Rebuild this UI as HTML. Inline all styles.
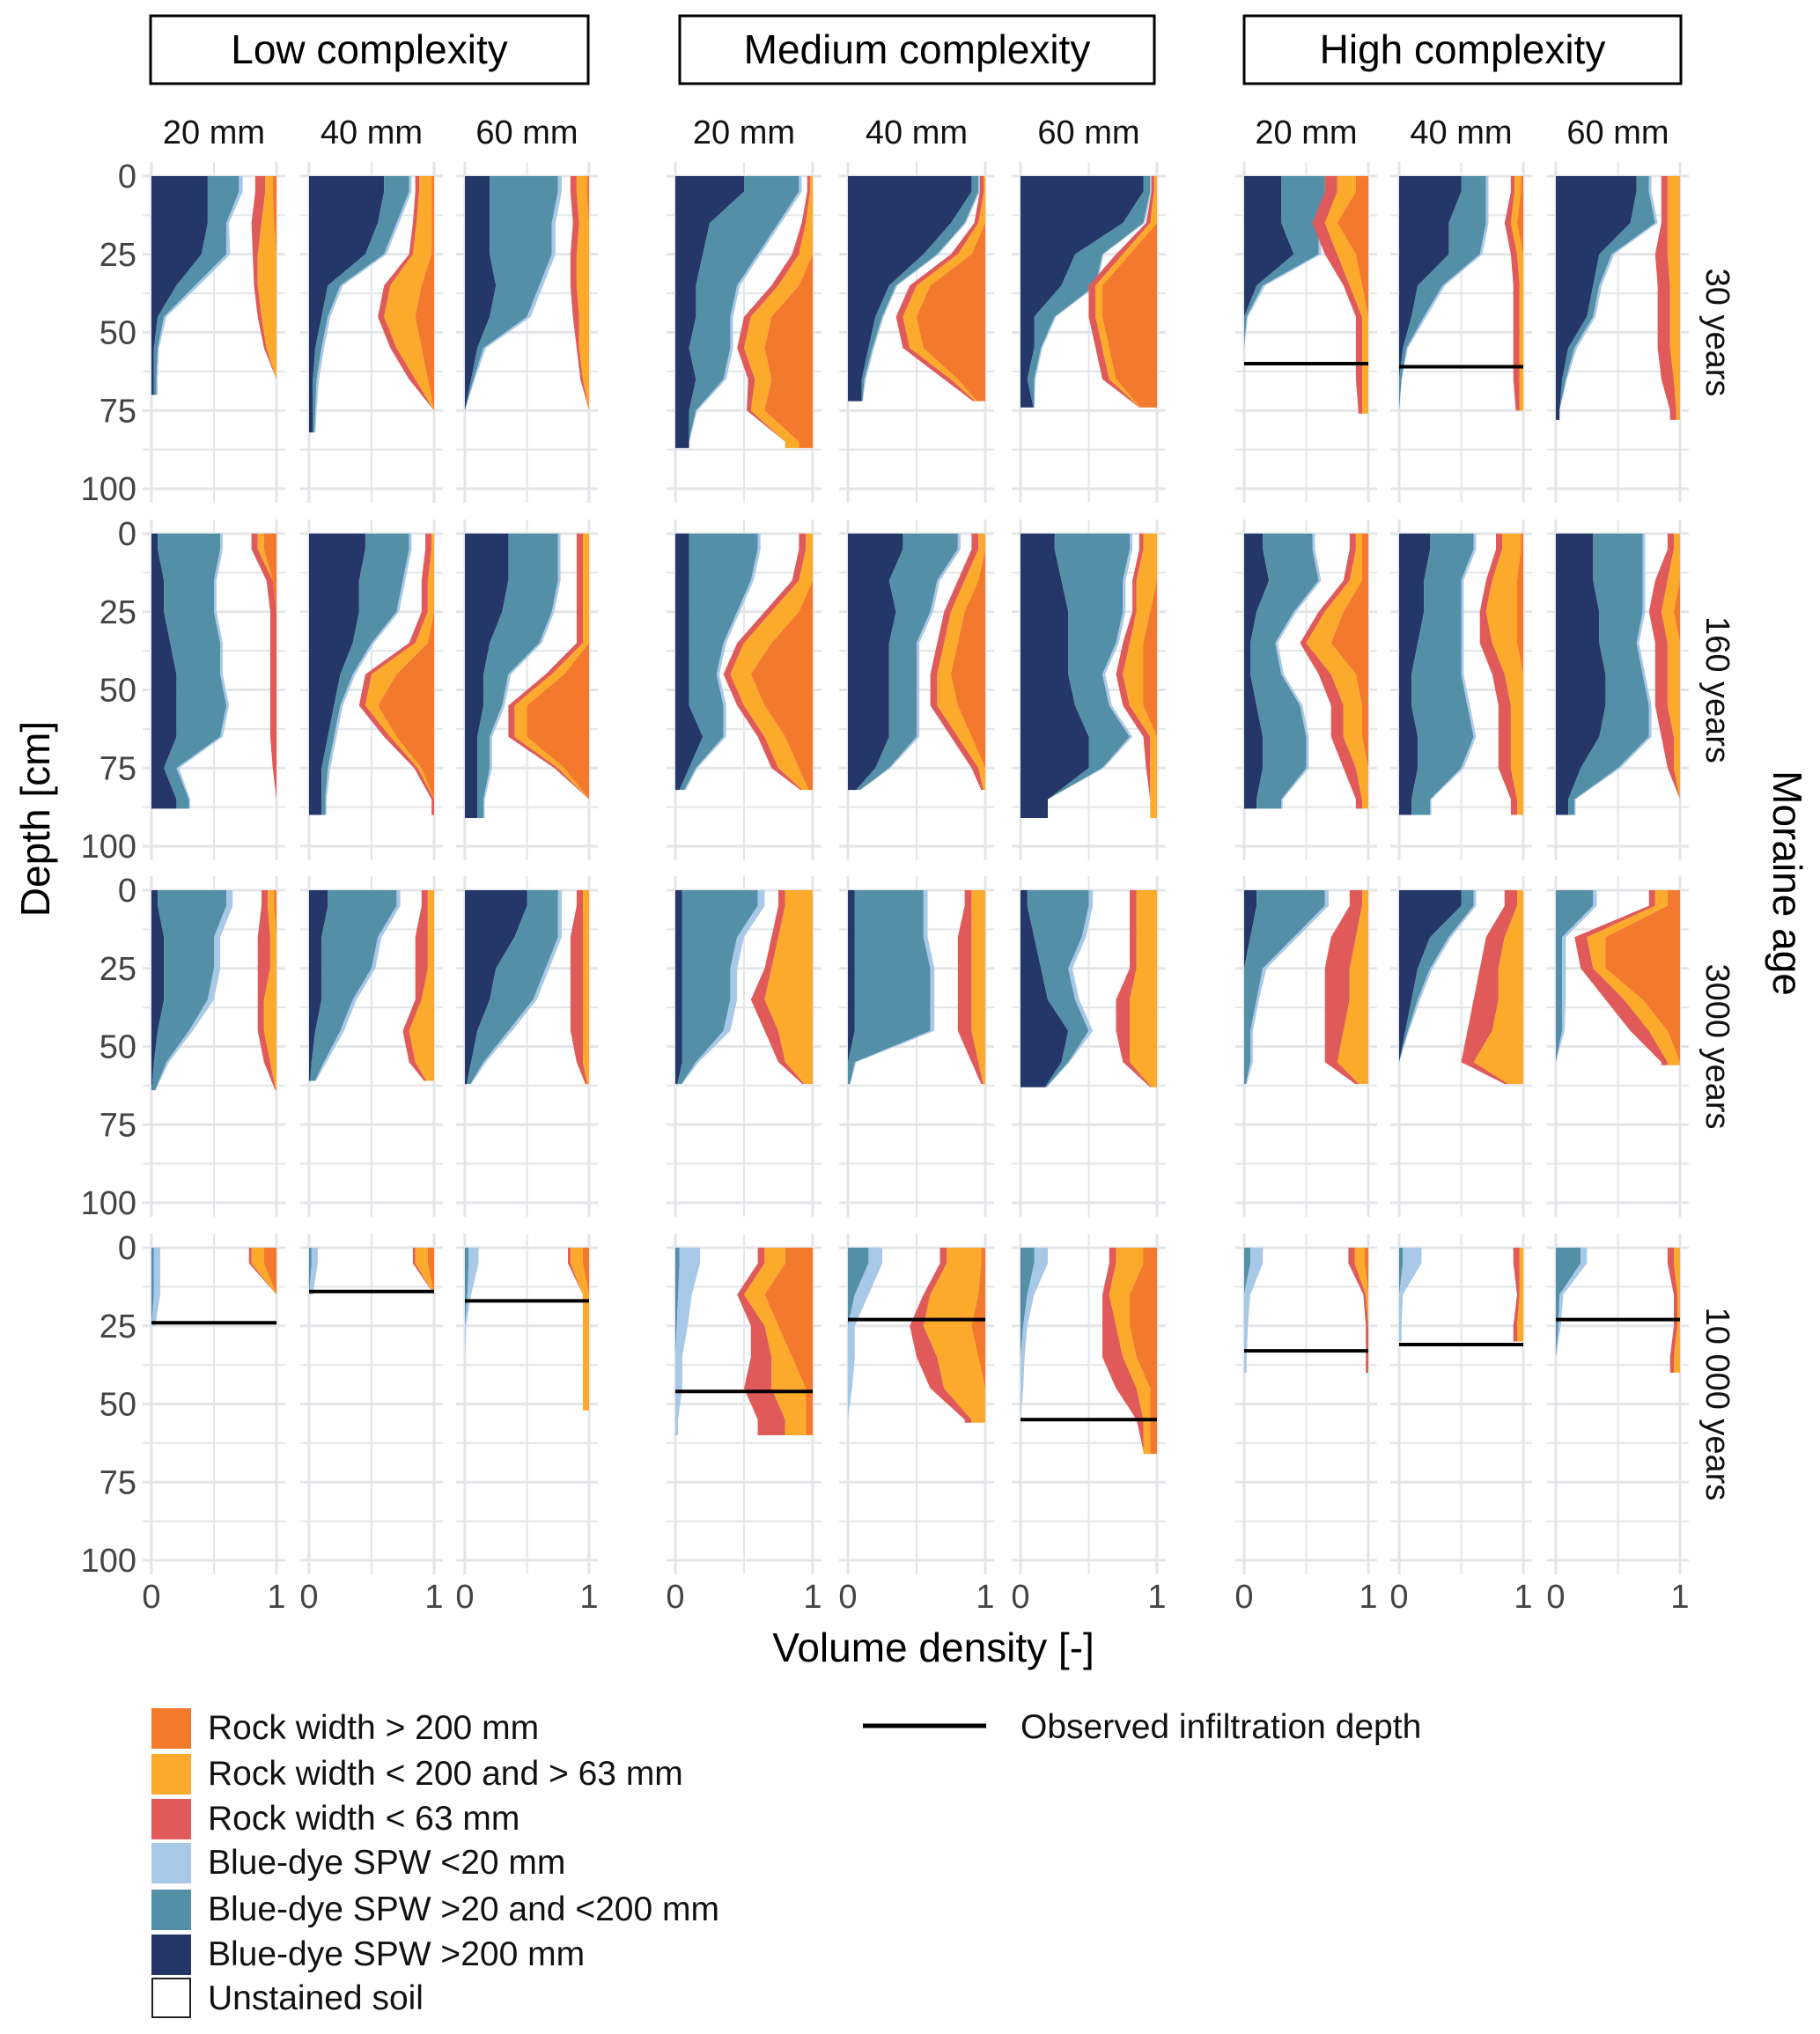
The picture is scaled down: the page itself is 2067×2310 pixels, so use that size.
<!DOCTYPE html>
<html><head><meta charset="utf-8"><style>
html,body{margin:0;padding:0;background:#fff}
svg{display:block;font-family:"Liberation Sans",sans-serif}
</style></head><body>
<svg id="chart" width="2067" height="2310" viewBox="0 0 2067 2310" xmlns="http://www.w3.org/2000/svg">
<g id="grid"></g>
<g id="marks"></g>
<g id="labels"></g>
<g>
 <rect x="172" y="1940" width="45" height="46" fill="#f37a2c"/>
 <rect x="172" y="1992" width="45" height="46" fill="#fbaa2c"/>
 <rect x="172" y="2043" width="45" height="46" fill="#e05a5a"/>
 <rect x="172" y="2093" width="45" height="46" fill="#a8c8e8"/>
 <rect x="172" y="2146" width="45" height="46" fill="#548fa8"/>
 <rect x="172" y="2197" width="45" height="46" fill="#253668"/>
 <rect x="173" y="2247" width="43" height="44" fill="#fff" stroke="#222" stroke-width="2"/>
 <g font-size="39" fill="#111">
  <text x="236" y="1975">Rock width &gt; 200 mm</text>
  <text x="236" y="2027">Rock width &lt; 200 and &gt; 63 mm</text>
  <text x="236" y="2078">Rock width &lt; 63 mm</text>
  <text x="236" y="2128">Blue-dye SPW &lt;20 mm</text>
  <text x="236" y="2181">Blue-dye SPW &gt;20 and &lt;200 mm</text>
  <text x="236" y="2232">Blue-dye SPW &gt;200 mm</text>
  <text x="236" y="2282">Unstained soil</text>
  <text x="1159" y="1974">Observed infiltration depth</text>
 </g>
 <line x1="980" y1="1960" x2="1120" y2="1960" stroke="#000" stroke-width="5"/>
</g>
</svg>
<script>
const groupNames = ["Low complexity","Medium complexity","High complexity"];
const sizeLabels = ["20 mm","40 mm","60 mm"];
const ageLabels = ["30 years","160 years","3000 years","10 000 years"];
const depthTicks = [0,25,50,75,100];
const maxDepth = [70,82,75,87,72,74,76,75,78, 88,90,91,82,82,91,88,90,90, 64,61,62,62,62,63,62,62,56, 25,15,52,60,56,66,40,30,40];
const infil = [null,null,null,null,null,null,60,61,null, null,null,null,null,null,null,null,null,null, null,null,null,null,null,null,null,null,null, 24,14,17,46,23,55,33,31,23];
const navy = [
[.45,.45,.4,.2,.05,.02,.02],[.6,.55,.45,.15,.1,.05,.03,.03,.03],[.2,.2,.2,.25,.2,.1,.05,0],
[.5,.25,.2,.15,.15,.1,.15,.1,.1],[.9,.75,.55,.3,.2,.15,.1,.1],[.9,.75,.4,.3,.1,.1,.05,.1],
[.3,.3,.4,.1,0,0,0,0],[.5,.4,.4,.15,.1,.03,0,0],[.65,.6,.35,.3,.25,.1,.05,.03],
[.05,.1,.1,.15,.2,.2,.2,.1,.2],[.45,.4,.4,.35,.25,.2,.15,.1,.1],[.35,.35,.3,.2,.15,.15,.1,.1,.1],
[.1,.1,.1,.1,.1,.1,.2,.1,0],[.4,.3,.35,.3,.3,.3,.3,.2,0],[.25,.3,.35,.35,.35,.4,.5,.5,.2],
[.15,.2,.1,.05,.05,.1,.15,.15,.1],[.25,.2,.2,.15,.1,.1,.15,.15,.1],[.3,.3,.35,.35,.4,.4,.35,.2,.1],
[.05,.1,.1,.1,.05,.02,0],[.15,.1,.1,.1,.05,.02,0],[.5,.4,.25,.2,.1,.05,0],
[.05,.05,.05,.05,.05,.05,0],[.05,.05,.05,.05,.05,0,0],[.05,.1,.15,.2,.35,.3,.15],
[.1,.05,0,0,0,0,0],[.5,.25,.15,.1,.05,0,0],[0,0,0,0,0,0],
[0,0,0],[0,0],[0,0,0,0,0,0],
[0,0,0,0,0,0],[0,0,0,0,0,0],[0,0,0,0,0,0,0],
[0,0,0,0],[0,0,0],[0,0,0,0]];
const teal = [
[.25,.15,.2,.15,.05,.03,.02],[.2,.15,.15,.1,.05,.05,.03,.02,.01],[.55,.5,.5,.35,.3,.05,.02,0],
[.4,.5,.4,.3,.25,.3,.2,.05,0],[.05,.1,.1,.05,.05,.03,.02,0],[.05,.15,.2,.25,.15,.05,.05,0],
[.35,.3,.2,.05,.02,0,0,0],[.2,.3,.25,.2,.1,.03,.02,0],[.1,.2,.1,.05,.05,.05,.03,0],
[.5,.4,.4,.4,.35,.4,.35,.1,.1],[.35,.35,.3,.15,.1,.05,.05,.05,.03],[.4,.4,.4,.4,.2,.15,.1,.1,.05],
[.5,.45,.35,.25,.2,.25,.15,.05,.03],[.4,.35,.25,.2,.2,.2,.2,.1,0],[.55,.45,.4,.35,.25,.25,.3,.1,0],
[.4,.4,.3,.2,.25,.35,.35,.35,.2],[.35,.3,.3,.35,.4,.45,.45,.35,.15],[.4,.4,.35,.3,.3,.35,.4,.3,.05],
[.55,.4,.4,.35,.25,.1,.02],[.55,.45,.4,.25,.2,.1,0],[.25,.35,.4,.35,.25,.1,0],
[.55,.4,.35,.35,.3,.1,0],[.5,.5,.55,.55,.55,.05,0],[.45,.35,.2,.2,.15,.05,0],
[.55,.35,.15,.1,.05,.05,0],[.1,.15,.1,.05,.02,0,0],[.3,.05,.05,.05,.05,0],
[.02,.02,0],[.02,0],[.03,.02,0,0,0,0],
[.03,.02,.01,0,0,0],[.15,.05,0,0,0,0],[.1,.05,.02,0,0,0,0],
[.05,0,0,0],[.03,0,0],[.2,.03,.02,0]];
const light = [
[.03,.02,.03,.03,.02,.01,.01],[.02,.02,.02,.02,.02,.02,.02,.01,.01],[.03,.03,.03,.03,.03,.02,.01,0],
[.02,.02,.02,.02,.02,.02,.02,.01,0],[.01,.01,.01,.01,.01,.01,.01,0],[.01,.01,.01,.01,.01,.01,.01,0],
[.02,.02,.02,.02,.01,0,0,0],[.02,.02,.02,.02,.02,.01,0,0],[.02,.02,.02,.02,.02,.02,.01,0],
[.02,.02,.02,.02,.02,.02,.02,.02,.01],[.02,.02,.02,.02,.02,.02,.02,.02,.01],[.02,.02,.02,.02,.02,.02,.02,.02,.01],
[.02,.02,.02,.02,.02,.02,.02,.01,.01],[.02,.02,.02,.02,.02,.02,.02,.01,0],[.02,.02,.02,.02,.02,.02,.02,.01,0],
[.02,.02,.02,.02,.02,.02,.02,.02,.01],[.02,.02,.02,.02,.02,.02,.02,.02,.01],[.02,.02,.02,.02,.02,.02,.02,.02,.01],
[.05,.05,.05,.05,.03,.02,0],[.03,.03,.03,.03,.03,.02,0],[.03,.03,.03,.03,.03,.02,0],
[.05,.05,.05,.05,.05,.02,0],[.03,.03,.03,.03,.03,.01,0],[.03,.03,.03,.03,.03,.01,0],
[.03,.03,.03,.02,.02,.02,0],[.02,.02,.02,.02,.01,0,0],[.03,.03,.03,.03,.02,0],
[.05,.05,.03],[.05,.03],[.08,.03,.01,0,0,0],
[.15,.1,.08,.05,.05,.02],[.1,.1,.05,.05,.03,0],[.1,.05,.03,.03,.02,0,0],
[.1,.05,.03,.02],[.15,.03,.02],[.05,.03,.02,0]];
const red = [
[.08,.08,.04,.03,.03,.02,0],[.03,.03,.03,.05,.05,.05,.05,0,0],[.05,.05,.05,.05,.05,.02,.02,0],
[.02,.03,.05,.05,.05,.05,.05,.03,0],[.03,.03,.05,.05,.05,.05,.05,0],[.02,.03,.05,.05,.05,.05,.05,0],
[.1,.1,.1,.05,.05,.05,.05,.03],[.03,.05,.05,.05,.05,.05,.05,.03],[.05,.05,.1,.1,.1,.1,.1,.05],
[.05,.05,.05,.05,.05,.05,.05,.03,0],[.05,.05,.05,.05,.05,.05,.05,.03,.02],[.05,.05,.05,.05,.05,.05,.05,.03,0],
[.05,.05,.05,.05,.05,.05,.05,.05,0],[.05,.05,.05,.05,.05,.05,.05,.05,0],[.03,.03,.03,.05,.05,.05,.05,.03,0],
[.05,.05,.05,.05,.1,.1,.1,.1,.05],[.05,.05,.05,.1,.1,.1,.1,.1,.05],[.05,.1,.1,.1,.1,.1,.1,.05,0],
[.05,.1,.1,.05,.05,.05,0],[.05,.1,.1,.05,.05,.05,0],[.05,.1,.1,.1,.1,.05,0],
[.05,.05,.05,.1,.1,.05,0],[.05,.1,.1,.1,.1,.05,0],[.05,.05,.05,.1,.1,.05,0],
[.1,.2,.2,.2,.15,.1,0],[.1,.15,.15,.2,.2,.1,0],[.05,.1,.1,.15,.15,.05],
[.02,0,0],[.02,0],[.02,0,0,0,0,0],
[.05,.05,.1,.15,.2,.2],[.05,.05,.1,.15,.1,.05],[.05,.05,.1,.15,.15,.05,0],
[.05,.02,.02,.02],[.05,.02,.03],[.05,.03,.03,.03]];
const yellow = [
[.06,.1,.15,.15,.12,.08,0],[.1,.12,.15,.25,.25,.2,.1,0,0],[.08,.08,.1,.1,.08,.08,.05,0],
[.02,.05,.1,.15,.15,.15,.12,.1,.1],[.01,.05,.1,.1,.1,.1,.05,0],[.02,.05,.05,.05,.05,.05,.05,0],
[.15,.1,.15,.1,.05,.05,.05,.05],[.05,.05,.05,.03,.03,.03,.03,.03],[.1,.1,.1,.08,.08,.08,.05,.03],
[.05,0,0,0,0,0,0,0,0],[.02,.05,.05,.1,.2,.1,.05,.03,0],[.05,.05,.05,.05,.1,.1,.1,.05,0],
[.05,.1,.2,.2,.15,.15,.15,.15,0],[.05,.1,.1,.1,.1,.15,.1,.05,0],[.1,.15,.1,.1,.15,.1,.05,.05,.05],
[.05,.1,.15,.2,.2,.15,.15,.1,.05],[.15,.2,.25,.2,.15,.1,.1,.1,.05],[.05,.1,.1,.1,.1,.1,.05,.05,0],
[.05,.05,.05,.1,.1,.05,0],[.05,.05,.05,.1,.2,.15,0],[.05,.05,.05,.05,.05,.05,0],
[.2,.25,.3,.35,.25,.2,0],[.1,.1,.1,.1,.1,.05,0],[.15,.15,.15,.2,.2,.2,0],
[.05,.1,.15,.15,.2,.25,0],[.05,.15,.2,.2,.25,.4,0],[.1,.15,.1,.15,.15,.1],
[.1,0,0],[.1,0],[.1,.05,.05,.05,.05,.05],
[.15,.15,.1,.15,.25,.15],[.25,.35,.35,.3,.3,.1],[.2,.15,.1,.1,.1,.05,.05],
[.08,.02,0,0],[.03,.03,.05],[.05,.02,.02,.05]];
const orange = [
[.03,.02,0,0,0,0,0],[.02,.02,.02,.1,.15,.1,.05,0,0],[.02,0,0,0,0,0,0,0],
[0,0,0,.1,.3,.35,.3,.35,.1],[0,0,.1,.4,.5,.45,.2,0],[0,0,.2,.4,.4,.35,.3,.1],
[.1,.25,.1,.05,0,0,0,0],[.02,.05,0,0,0,0,0,0],[0,0,0,0,0,0,0,0],
[.1,.03,0,0,0,0,0,0,0],[0,0,0,.05,.3,.45,.3,.1,0],[0,0,0,0,.2,.5,.5,.2,0],
[0,0,.1,.3,.45,.35,.2,.1,0],[0,.05,.15,.2,.25,.2,.1,0,0],[0,0,.05,.1,.1,.1,0,0,0],
[.05,.05,.2,.3,.1,.05,.05,0,0],[.02,.05,.05,.05,0,0,0,0,0],[0,0,.05,0,0,0,0,0,0],
[.02,0,0,0,0,0,0],[0,0,0,0,0,0,0],[0,0,0,0,0,0,0],
[0,0,0,0,0,0,0],[0,0,0,0,0,0,0],[0,0,0,0,0,0,0],
[0,0,0,0,0,0,0],[0,0,0,0,0,0,0],[.1,.6,.6,.3,.1,0],
[.1,0,0],[.05,0],[.05,0,0,0,0,0],
[.2,.35,.25,.15,.05,.05],[.03,.05,.1,.05,0,0],[.1,.2,.2,.15,.05,.05,.05],
[.03,0,0,0],[0,0,0],[0,0,0,0]];

const colX0 = [172,351,528,767,963,1159,1413,1589,1767];
const colX1 = [314,493,669,923,1119,1314,1554,1730,1908];
const rowY0 = [200,606,1011,1417];
const PH = 355;
const NS = "http://www.w3.org/2000/svg";
const grid = document.getElementById('grid');
const marks = document.getElementById('marks');
const labels = document.getElementById('labels');
function mk(tag, attrs, parent){ const e=document.createElementNS(NS,tag); for(const k in attrs) e.setAttribute(k,attrs[k]); parent.appendChild(e); return e; }
function val(arr, d){
  if(d<=5) return arr[0]||0;
  const i=Math.floor((d-5)/10), f=(d-5-10*i)/10;
  const a=arr[i]||0, b=(arr[i+1]===undefined?a:arr[i+1]);
  return a+(b-a)*f;
}
const colors = ["#253668","#548fa8","#a8c8e8","#e05a5a","#fbaa2c","#f37a2c"];
const seriesNames = ["spw-large","spw-medium","spw-small","rock-small","rock-medium","rock-large"];

for(let r=0;r<4;r++){
  for(let c=0;c<9;c++){
    const idx=r*9+c;
    const x0=colX0[c], x1=colX1[c], y0=rowY0[r];
    const X=v=>x0+v*(x1-x0), Y=d=>y0+d*PH/100;
    for(let k=0;k<=8;k++){
      const gl=mk('line',{x1:x0-10,x2:x1+10,y1:Y(k*12.5),y2:Y(k*12.5),stroke:'#e3e5e8','stroke-width':(k%2?2:3)},grid);
      
      
    }
    [0,0.5,1].forEach(v=>{
      const gl=mk('line',{x1:X(v),x2:X(v),y1:y0-16,y2:y0+PH+16,stroke:'#e3e5e8','stroke-width':(v===0.5?2:3)},grid);
      
      
    });
    const md=maxDepth[idx];
    const ds=[]; for(let d=0; d<=md; d+=1) ds.push(d);
    const sers=[navy[idx],teal[idx],light[idx],red[idx],yellow[idx],orange[idx]];
    const vals=sers.map(s=>ds.map(d=>val(s,d)));
    const bounds=[];
    ds.forEach((d,j)=>{
      const n=vals[0][j], t=vals[1][j], l=vals[2][j], rr=vals[3][j], yy=vals[4][j], oo=vals[5][j];
      bounds.push([[0,n],[n,n+t],[n+t,n+t+l],[1-oo-yy-rr,1-oo-yy],[1-oo-yy,1-oo],[1-oo,1]]);
    });
    for(let s=0;s<6;s++){
      let left=[], right=[];
      ds.forEach((d,j)=>{ left.push(X(bounds[j][s][0]).toFixed(1)+','+Y(d).toFixed(1)); right.push(X(bounds[j][s][1]).toFixed(1)+','+Y(d).toFixed(1)); });
      const pts=left.concat(right.reverse()).join(' ');
      const p=mk('polygon',{points:pts,fill:colors[s]},marks);
      
      
    }
    if(infil[idx]!==null){
      const ln=mk('line',{x1:x0,x2:x1,y1:Y(infil[idx]),y2:Y(infil[idx]),stroke:'#000','stroke-width':4},marks);
      
      
    }
    if(r===0){
      const t=mk('text',{x:(x0+x1)/2,y:163,'font-size':38,'text-anchor':'middle',fill:'#111'},labels);
      t.textContent=sizeLabels[c%3];
      
      
    }
    if(r===3){
      [0,1].forEach(v=>{
        const t=mk('text',{x:X(v),y:1826,'font-size':38,'text-anchor':'middle',fill:'#444'},labels);
        t.textContent=String(v);
        
        
      });
    }
    if(c===0){
      depthTicks.forEach(v=>{
        const t=mk('text',{x:155,y:Y(v)+13,'font-size':38,'text-anchor':'end',fill:'#444'},labels);
        t.textContent=String(v);
        
        
      });
    }
  }
  const cy=rowY0[r]+PH/2;
  const a=mk('text',{x:1938,y:cy,'font-size':38,'text-anchor':'middle',fill:'#111',transform:`rotate(90 1938 ${cy})`},labels);
  a.textContent=ageLabels[r];
  
  
}
const boxes=[[171,668],[772,1311],[1413,1909]];
boxes.forEach((b,i)=>{
  const rc=mk('rect',{x:b[0],y:18,width:b[1]-b[0],height:77,fill:'#fff',stroke:'#000','stroke-width':3},labels);
  
  
  const t=mk('text',{x:(b[0]+b[1])/2,y:72,'font-size':46,'text-anchor':'middle',fill:'#000'},labels);
  t.textContent=groupNames[i];
  
  
});
const xt=mk('text',{x:1060,y:1887,'font-size':46,'text-anchor':'middle',fill:'#000'},labels);
xt.textContent='Volume density [-]';


const yt=mk('text',{x:40,y:930,'font-size':46,'text-anchor':'middle',fill:'#000',transform:'rotate(-90 40 930)',dy:'16'},labels);
yt.textContent='Depth [cm]';


const mt=mk('text',{x:2030,y:1003,'font-size':46,'text-anchor':'middle',fill:'#000',transform:'rotate(90 2030 1003)',dy:'16'},labels);
mt.textContent='Moraine age';


</script>
</body></html>
